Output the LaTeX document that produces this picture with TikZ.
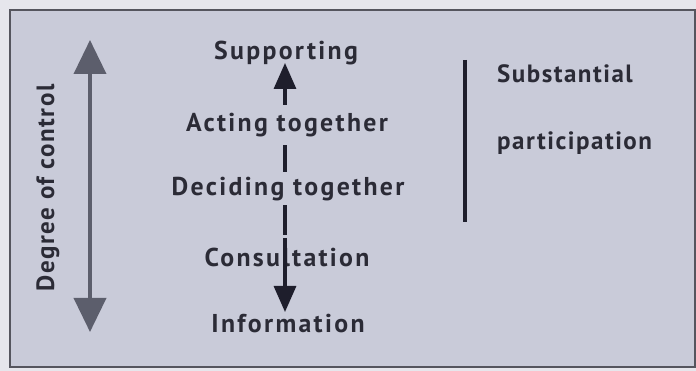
\documentclass[tikz,border=0pt]{standalone}
\usepackage{fontspec}
\setmainfont{PT Sans}[LetterSpace=6]
\newfontfamily\widefont{PT Sans}[LetterSpace=9]
\usetikzlibrary{arrows.meta}
\definecolor{bgout}{HTML}{E6E6EC}
\definecolor{bgin}{HTML}{C9CBD9}
\definecolor{txt}{HTML}{2B2B36}
\definecolor{grayarrow}{HTML}{5C5E6C}
\definecolor{navy}{HTML}{1E1E2C}
\tikzset{
  lbl/.style={font=\bfseries\fontsize{25}{27}\selectfont, text=txt, inner sep=0pt},
  clbl/.style={font=\widefont\bfseries\fontsize{25.8}{28}\selectfont, text=txt, inner sep=0pt},
  conn/.style={draw=navy, line width=3.2pt},
  tipconn/.style={conn, -{Triangle[length=26pt,width=22pt]}},
}
\begin{document}
\begin{tikzpicture}[x=1pt,y=1pt]
\useasboundingbox (0,0) rectangle (696,371);
\fill[bgout] (0,0) rectangle (696,371);
\filldraw[fill=bgin, draw=txt!80, line width=1.8pt] (10,4) rectangle (695,361);
% left double arrow
\coordinate (ltop) at (90,331);
\coordinate (lbot) at (90,39);
\draw[draw=grayarrow, line width=3.8pt, {Triangle[length=34pt,width=32pt]}-{Triangle[length=34pt,width=32pt]}] (lbot) -- (ltop);
\node[lbl, rotate=90] (deg) at (48,183) {Degree of control};
% center column
\node[clbl] (sup) at (286,318) {Supporting};
\node[clbl] (act) at (287,246) {Acting together};
\node[clbl] (dec) at (288,182) {Deciding together};
\node[clbl] (con) at (287,114) {Consultation};
\node[clbl] (inf) at (288,47) {Information};
\coordinate (a1s) at (285,266);
\coordinate (a1e) at (285,308);
\coordinate (d1s) at (285,199);
\coordinate (d1e) at (285,226);
\coordinate (d2s) at (285,136);
\coordinate (d2e) at (285,166);
\coordinate (a2s) at (285,133);
\coordinate (a2e) at (285,59);
\draw[tipconn] (a1s) -- (a1e);
\draw[conn] (d1s) -- (d1e);
\draw[conn] (d2s) -- (d2e);
\draw[tipconn] (a2s) -- (a2e);
% right bar
\coordinate (bt) at (465,311);
\coordinate (bb) at (465,149);
\draw[navy, line width=3.8pt] (bt) -- (bb);
\node[lbl, anchor=west] (subs) at (497,297) {Substantial};
\node[lbl, anchor=west] (part) at (497,228) {participation};
\end{tikzpicture}
\end{document}
